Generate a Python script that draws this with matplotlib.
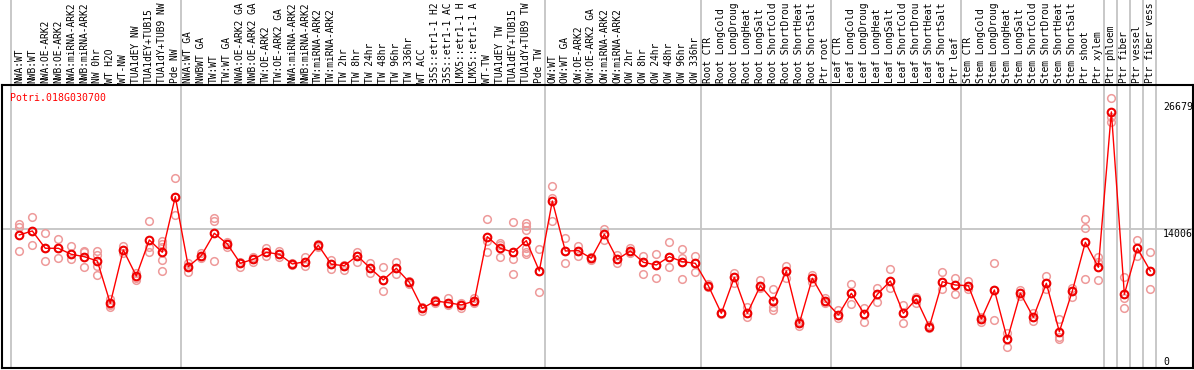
import numpy as np
import matplotlib
matplotlib.use("Agg")
import matplotlib.pyplot as plt
import matplotlib.transforms as mtransforms

gene = "Potri.018G030700"

# sample names as far as they are visible in the label strip
labels = [
    "NWA:WT", "NWB:WT", "NWA:OE-ARK2", "NWB:OE-ARK2", "NWA:miRNA-ARK2",
    "NWB:miRNA-ARK2", "NW 0hr", "WT H2O", "WT-NW", "TUA1dEY NW",
    "TUA1dEY+TUB15", "TUA1dY+TUB9 NW", "Pde NW",
    "NWA:WT GA", "NWBWT GA", "TW:WT", "TW:WT GA", "NWA:OE-ARK2 GA",
    "NWB:OE-ARK2 GA", "TW:OE-ARK2", "TW:OE-ARK2 GA", "NWA:miRNA-ARK2",
    "NWB:miRNA-ARK2", "TW:miRNA-ARK2", "TW:miRNA-ARK2", "TW 2hr", "TW 8hr",
    "TW 24hr", "TW 48hr", "TW 96hr", "TW 336hr", "WT ACC", "35S::etr1-1 H2",
    "35S::etr1-1 AC", "LMX5::etr1-1 H", "LMX5::etr1-1 A", "WT-TW",
    "TUA1dEY TW", "TUA1dEY+TUB15", "TUA1dY+TUB9 TW", "Pde TW",
    "OW:WT", "OW:WT GA", "OW:OE-ARK2", "OW:OE-ARK2 GA", "OW:miRNA-ARK2",
    "OW:miRNA-ARK2", "OW 2hr", "OW 8hr", "OW 24hr", "OW 48hr", "OW 96hr",
    "OW 336hr",
    "Root CTR", "Root LongCold", "Root LongDroug", "Root LongHeat",
    "Root LongSalt", "Root ShortCold", "Root ShortDrou", "Root ShortHeat",
    "Root ShortSalt", "Ptr root",
    "Leaf CTR", "Leaf LongCold", "Leaf LongDroug", "Leaf LongHeat",
    "Leaf LongSalt", "Leaf ShortCold", "Leaf ShortDrou", "Leaf ShortHeat",
    "Leaf ShortSalt", "Ptr leaf",
    "Stem CTR", "Stem LongCold", "Stem LongDroug", "Stem LongHeat",
    "Stem LongSalt", "Stem ShortCold", "Stem ShortDrou", "Stem ShortHeat",
    "Stem ShortSalt", "Ptr shoot", "Ptr xylem",
    "Ptr phloem", "Ptr fiber", "Ptr vessel", "Ptr fiber vess",
]

# samples per group (separator lines drawn after each)
group_sizes = [13, 28, 12, 10, 10, 11, 1, 1, 1, 1]

means = [
    13305, 13740, 11859, 11859, 11207, 10946, 10479, 5881, 11674, 8848,
    12761, 11424, 17468,
    9859, 11055, 13490, 12327, 10229, 10663, 11424, 11207, 10153, 10403,
    12185, 10120, 9968, 11055, 9685, 8413, 9685, 8163, 5337, 6131, 5946,
    5696, 6131, 13120, 11859, 11424, 12685, 9392,
    17001, 11566, 11598, 10772, 13381, 10663, 11566, 10337, 10044, 10946,
    10403, 10229,
    7794, 4794, 8707, 4794, 7794, 6131, 9392, 3707, 8598, 6131,
    4609, 6968, 4718, 6859, 8305, 4794, 6348, 3337, 8229, 7870,
    7794, 4174, 7326, 1967, 6968, 4359, 8055, 2794, 7218, 12511, 9794,
    26679, 6859, 11859, 9392,
]

replicates = [
    [14500, 14175, 11566], [15229, 13740, 12218], [13490, 11859, 10511],
    [12870, 11859, 10805], [12109, 11207, 10663], [11598, 11457, 9794],
    [11598, 11131, 9968, 8957], [6315, 5696, 5478], [12109, 11674, 11348],
    [9174, 8631, 8413], [14827, 12000, 11457],
    [12653, 12327, 12000, 10587, 9392], [19468, 17468, 15479],
    [10261, 9935, 9283], [11348, 11022, 10805], [15185, 14827, 10511],
    [12577, 12327, 12033], [10403, 10229, 9794], [10946, 10663, 10403],
    [11859, 11424, 11022], [11598, 11207, 10946], [10261, 10153, 10044],
    [10946, 10403, 9968], [12327, 12185, 12033], [10587, 10120, 9576],
    [10044, 9968, 9500], [11424, 11055, 10403], [10229, 9685, 9142],
    [9794, 8413, 7218], [10403, 9685, 9033], [8305, 8163, 8023],
    [5478, 5337, 5076], [6239, 6131, 5946], [6424, 5946, 5696],
    [5881, 5696, 5337], [6489, 6131, 5881], [15044, 12653, 11457],
    [12468, 12218, 10881], [14685, 11424, 10663, 9033],
    [14609, 14283, 13848, 11859, 11490, 11207], [11750, 9392, 7109],
    [18664, 17294, 14827], [12946, 11566, 10229], [12109, 11598, 11022],
    [10946, 10772, 10587], [13924, 13381, 12761], [11131, 10663, 10294],
    [11859, 11566, 11316], [11022, 10337, 9066], [11207, 10044, 8598],
    [12511, 10946, 9794], [11750, 10837, 10403, 8489],
    [11022, 10229, 9316],
    [7924, 7794, 7652], [4859, 4794, 4718], [9207, 8707, 8055],
    [5511, 4794, 4424], [8413, 7794, 7511], [7402, 6131, 5511, 5152],
    [9935, 9392, 8598], [3957, 3707, 3413], [8957, 8598, 8229],
    [6424, 6131, 5946],
    [5152, 4609, 4250], [7946, 6968, 5772], [5337, 4718, 3815],
    [7576, 6859, 6055], [9576, 8305, 7576], [5696, 4794, 3772],
    [6598, 6348, 5881], [3522, 3337, 3163], [9316, 8229, 7402],
    [8598, 7870, 6892],
    [8305, 7794, 7402], [4359, 4174, 3815], [10229, 7326, 4065],
    [2620, 1967, 1098], [7326, 6968, 6674], [4794, 4359, 3989],
    [8848, 8055, 7402], [4141, 2250, 2000], [7576, 7218, 6598],
    [15011, 14033, 8489], [10881, 10403, 8413],
    [28164, 26164, 25621], [8707, 6424, 5402], [12761, 11859, 11022],
    [11424, 9392, 7402],
]

y_ticks = [0, 14006, 26679]

W, H = 1194, 370
fig = plt.figure(figsize=(W / 100, H / 100), dpi=100)
ax = fig.add_axes([2 / W, 2 / H, 1191 / W, 283 / H])

font = {"family": "DejaVu Sans Mono", "size": 7.1}
label_font = {"family": "DejaVu Sans Mono", "size": 6.9}
x = np.arange(len(labels))

# replicates
for i, reps in enumerate(replicates):
    ax.plot([i] * len(reps), reps, linestyle="none", marker="o",
            markersize=5.5, markerfacecolor="none",
            markeredgecolor="#ee9a9a", markeredgewidth=1.1, zorder=3)

# mean line and markers
ax.plot(x, means, color="#ff0000", linewidth=1.0, zorder=4)
ax.plot(x, means, linestyle="none", marker="o", markersize=5.5,
        markerfacecolor="none", markeredgecolor="#ee0000",
        markeredgewidth=1.5, zorder=5)

ax.set_xlim(-1.33, 90.28)
ax.set_ylim(-1150, 29600)

# group separators, reaching into the label strip
bounds = np.cumsum([0] + group_sizes) - 1
for b in bounds:
    ax.axvline(b + 0.4, ymin=0, ymax=368 / 283, color="#c4c4c4",
               linewidth=1.3, clip_on=False, zorder=1)
ax.axhline(y_ticks[1], color="#c4c4c4", linewidth=1.3, zorder=1)

# top border of plot / label strip
ax.plot([0, 1], [1, 1], transform=ax.transAxes, color="black",
        linewidth=1.5, clip_on=False, zorder=6)

trans = mtransforms.blended_transform_factory(ax.transData, ax.transAxes)
for i, lab in enumerate(labels):
    ax.text(i, 1.0055, lab, transform=trans, rotation=90, ha="center",
            va="bottom", color="black", clip_on=False, **label_font)

ax.text(0.0067, 0.972, gene, transform=ax.transAxes, ha="left", va="top",
        color="#ff0000", **font)

ax.text(87.98, y_ticks[2], str(y_ticks[2]), ha="left", va="bottom", **font)
ax.text(87.98, y_ticks[1], str(y_ticks[1]), ha="left", va="top", **font)
ax.text(87.98, y_ticks[0], str(y_ticks[0]), ha="left", va="top", **font)

ax.set_xticks([])
ax.set_yticks([])
for side in ["left", "bottom", "right"]:
    ax.spines[side].set_linewidth(1.5)
    ax.spines[side].set_color("black")
ax.spines["top"].set_visible(False)

fig.savefig("out.png", dpi=100)
